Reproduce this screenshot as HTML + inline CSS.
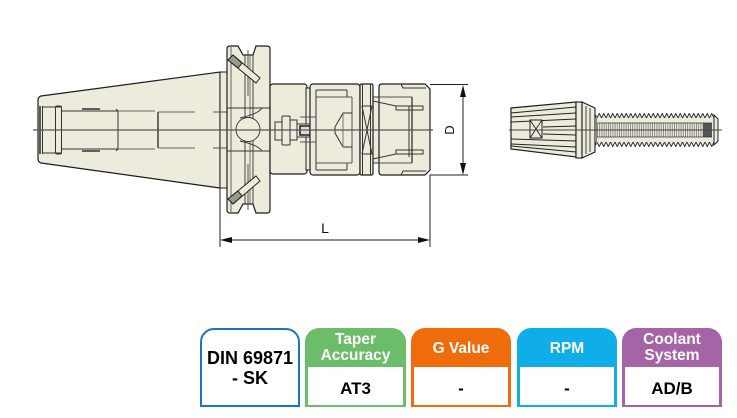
<!DOCTYPE html>
<html><head><meta charset="utf-8">
<style>
html,body{margin:0;padding:0;background:#fff;}
body{width:737px;height:418px;position:relative;overflow:hidden;font-family:"Liberation Sans",sans-serif;}
.box{position:absolute;top:328px;height:79px;box-sizing:border-box;border-radius:14px 14px 0 0;}
.b1{left:200px;width:100px;border:2px solid #1b75bc;background:#fff;}
.hd{position:absolute;left:0;right:0;text-align:center;color:#fff;font-weight:bold;font-size:15.5px;line-height:16px;}
.in{position:absolute;left:3px;right:3px;top:39px;bottom:2px;background:#fff;}
.val{position:absolute;left:0;right:0;top:12px;text-align:center;color:#000;font-weight:bold;font-size:17px;line-height:20px;}
.t1{position:absolute;left:-2px;right:-2px;top:18px;text-align:center;font-weight:bold;font-size:18px;line-height:20px;color:#000;}
</style></head><body>
<svg width="737" height="418" viewBox="0 0 737 418" style="position:absolute;left:0;top:0">
<defs>
<pattern id="tt" x="597" y="113" width="4.5" height="5" patternUnits="userSpaceOnUse"><path d="M0,5 L2.25,0.4 L4.5,5" fill="#ecebdc" stroke="#222" stroke-width="0.9"/></pattern>
<pattern id="tb" x="597" y="142" width="4.5" height="5" patternUnits="userSpaceOnUse"><path d="M0,0 L2.25,4.6 L4.5,0" fill="#ecebdc" stroke="#222" stroke-width="0.9"/></pattern>
<pattern id="hatch" x="597" y="0" width="2.2" height="10" patternUnits="userSpaceOnUse"><line x1="0.5" y1="0" x2="0.5" y2="10" stroke="#666" stroke-width="0.7"/></pattern>
</defs>

<!-- Taper -->
<path d="M41,96 L220,72 L220,188 L41,163 Q38,162 38,159 L38,100 Q38,97 41,96 Z" fill="#ecebdc" stroke="#1e1e1e" stroke-width="1.2"/>
<rect x="220" y="72" width="7" height="116" fill="#ecebdc" stroke="#1e1e1e" stroke-width="1"/>
<g stroke="#333" stroke-width="1" fill="none">
<line x1="40" y1="106" x2="40" y2="154" stroke-width="1.6"/>
<line x1="42.5" y1="106" x2="42.5" y2="154"/>
<line x1="42" y1="107" x2="62" y2="107"/>
<line x1="42" y1="153" x2="62" y2="153"/>
<rect x="55.5" y="106" width="6" height="48" rx="1.5"/>
<line x1="62" y1="111" x2="118" y2="111"/>
<line x1="62" y1="149" x2="118" y2="149"/>
<line x1="82" y1="109" x2="100" y2="109" stroke-width="1.4"/>
<line x1="82" y1="151" x2="100" y2="151" stroke-width="1.4"/>
<path d="M116,109 L118,111 L118,149 L116,151"/>
<line x1="118" y1="111" x2="155" y2="111" stroke="#666"/>
<line x1="118" y1="149" x2="155" y2="149" stroke="#666"/>
<line x1="158" y1="112" x2="158" y2="148" stroke-width="1.4"/>
<line x1="158" y1="112" x2="195" y2="112" stroke="#666"/>
<line x1="158" y1="148" x2="195" y2="148" stroke="#666"/>
<line x1="213" y1="112" x2="227" y2="112" stroke="#555"/>
<line x1="213" y1="148" x2="227" y2="148" stroke="#555"/>
</g>

<!-- Flange -->
<path d="M230,46 L238,46 L243,55 L253,55 L256,46 L267,46 Q270,46 270,49 L270,210 Q270,213 267,213 L256,213 L253,204 L243,204 L238,213 L230,213 Q227,213 227,210 L227,49 Q227,46 230,46 Z" fill="#ecebdc" stroke="#1e1e1e" stroke-width="1.2"/>
<g stroke="#333" stroke-width="0.9" fill="none">
<line x1="231" y1="47" x2="231" y2="212" stroke="#555"/>
<line x1="245" y1="55" x2="245" y2="204"/>
<line x1="248" y1="50" x2="248" y2="96" stroke="#444"/>
<line x1="250" y1="55" x2="250" y2="204" stroke="#666"/>
<line x1="253" y1="55" x2="253" y2="204"/>
<line x1="248" y1="164" x2="248" y2="210" stroke="#444"/>
<line x1="227" y1="108" x2="270" y2="108"/>
<line x1="227" y1="151" x2="270" y2="151"/>
<circle cx="248" cy="129.5" r="12" fill="#ecebdc"/>
<path d="M240,118 Q258,114 262,108"/>
<path d="M240,141 Q258,145 262,151"/>
</g>
<!-- slots -->
<polygon points="233,55 260,78 256,83 228,60" fill="#ecebdc" stroke="#222" stroke-width="1"/>
<polygon points="233,55 242,63 238,68 228,60" fill="#9a9a90" stroke="#222" stroke-width="1"/>
<polygon points="233,204 260,181 256,176 228,199" fill="#ecebdc" stroke="#222" stroke-width="1"/>
<polygon points="233,204 242,196 238,191 228,199" fill="#9a9a90" stroke="#222" stroke-width="1"/>

<!-- Body -->
<rect x="270" y="84" width="37" height="90" rx="3" fill="#ecebdc" stroke="#1e1e1e" stroke-width="1.2"/>
<rect x="306" y="88" width="5" height="82" fill="#ecebdc" stroke="#1e1e1e" stroke-width="1"/>
<g stroke="#333" stroke-width="1" fill="#ecebdc">
<rect x="275" y="122" width="7" height="18"/>
<rect x="282" y="116" width="8" height="29" rx="1"/>
<rect x="290" y="120" width="7" height="20"/>
<rect x="297" y="124" width="16" height="13"/>
<rect x="300" y="126" width="10" height="9" fill="#ddd" stroke="#111" stroke-width="1.4"/>
</g>

<!-- Nut 1 -->
<rect x="310" y="84" width="50" height="91" rx="3" fill="#ecebdc" stroke="#1e1e1e" stroke-width="1.2"/>
<g stroke="#333" stroke-width="1" fill="none">
<line x1="316" y1="90" x2="316" y2="170"/>
<line x1="316" y1="90" x2="347" y2="90"/>
<line x1="316" y1="170" x2="347" y2="170"/>
<line x1="347" y1="90" x2="347" y2="97"/>
<line x1="347" y1="163" x2="347" y2="170"/>
<line x1="316" y1="97" x2="352" y2="97" stroke="#555"/>
<line x1="316" y1="163" x2="352" y2="163" stroke="#555"/>
<line x1="352" y1="97" x2="352" y2="163" stroke="#555"/>
<path d="M352,113 L343,113 L335,127 L335,133 L343,147 L352,147"/>
<line x1="343" y1="113" x2="343" y2="147" stroke="#777"/>
<line x1="300" y1="117" x2="316" y2="117" stroke="#555"/>
<line x1="300" y1="142" x2="316" y2="142" stroke="#555"/>
</g>
<!-- Ring -->
<rect x="373" y="97" width="6" height="66" fill="#ecebdc" stroke="#333" stroke-width="1"/>
<rect x="360" y="84" width="13" height="91" rx="1.5" fill="#ecebdc" stroke="#1e1e1e" stroke-width="1.2"/>
<g stroke="#333" stroke-width="1">
<line x1="362.5" y1="84" x2="362.5" y2="175"/>
<line x1="370.5" y1="84" x2="370.5" y2="175"/>
<line x1="362" y1="106" x2="372" y2="154"/>
<line x1="372" y1="106" x2="362" y2="154"/>
<line x1="362" y1="106" x2="372" y2="106"/>
<line x1="362" y1="154" x2="372" y2="154"/>
</g>
<!-- Nut 2 -->
<path d="M382,84 L425,84 L430,89 L430,170 L425,175 L382,175 Q379,175 379,172 L379,87 Q379,84 382,84 Z" fill="#ecebdc" stroke="#1e1e1e" stroke-width="1.2"/>
<g stroke="#333" stroke-width="1" fill="none">
<path d="M401,84 L403,88 L426,88"/>
<path d="M401,175 L403,171 L426,171"/>
<line x1="379" y1="97" x2="412" y2="97" stroke="#555"/>
<line x1="379" y1="163" x2="412" y2="163" stroke="#555"/>
<line x1="409" y1="106" x2="409" y2="157"/>
<line x1="412" y1="97" x2="412" y2="163" stroke-width="1.3"/>
<line x1="373" y1="101" x2="396" y2="106"/>
<line x1="373" y1="159" x2="396" y2="154"/>
<rect x="396" y="106" width="27" height="4"/>
<rect x="396" y="150" width="27" height="4"/>
</g>

<!-- Center line -->
<line x1="33" y1="130" x2="433" y2="130" stroke="#555" stroke-width="1.2"/>

<!-- Dimensions -->
<g stroke="#222" stroke-width="1" fill="none">
<line x1="220" y1="188" x2="220" y2="247"/>
<line x1="430" y1="175" x2="430" y2="247"/>
<line x1="222" y1="240" x2="428" y2="240"/>
<line x1="430" y1="84.5" x2="468" y2="84.5"/>
<line x1="430" y1="175" x2="468" y2="175"/>
<line x1="463" y1="87" x2="463" y2="173"/>
</g>
<g fill="#111">
<polygon points="220,240 232,237 232,243"/>
<polygon points="430,240 418,237 418,243"/>
<polygon points="463,85 460,97 466,97"/>
<polygon points="463,175 460,163 466,163"/>
</g>
<text x="325" y="233" font-family="Liberation Sans, sans-serif" font-size="14" text-anchor="middle" fill="#111">L</text>
<text x="0" y="0" font-family="Liberation Sans, sans-serif" font-size="13" text-anchor="middle" fill="#111" transform="translate(454,130) rotate(-90)">D</text>

<!-- Right collet -->
<polygon points="511,108 576,102 576,157 511,149" fill="#ecebdc" stroke="#1e1e1e" stroke-width="1.2"/>
<g stroke="#222" stroke-width="1">
<line x1="511" y1="113" x2="576" y2="107"/>
<line x1="511" y1="117" x2="576" y2="113"/>
<line x1="511" y1="122" x2="576" y2="119"/>
<line x1="543" y1="127" x2="576" y2="126"/>
<line x1="543" y1="134" x2="576" y2="135"/>
<line x1="511" y1="139" x2="576" y2="141"/>
<line x1="511" y1="144" x2="576" y2="147"/>
<line x1="511" y1="146" x2="576" y2="152"/>
</g>
<rect x="530" y="120" width="12" height="18" fill="#ecebdc" stroke="#222" stroke-width="1"/>
<g stroke="#222" stroke-width="0.9"><line x1="530" y1="120" x2="542" y2="138"/><line x1="542" y1="120" x2="530" y2="138"/></g>
<rect x="576" y="102" width="6" height="56" fill="#ecebdc" stroke="#1e1e1e" stroke-width="1.1"/>
<polygon points="582,102 595,108 595,152 582,158" fill="#ecebdc" stroke="#1e1e1e" stroke-width="1.1"/>
<g stroke="#333" stroke-width="0.9">
<line x1="586" y1="106" x2="586" y2="154"/>
<line x1="590" y1="108" x2="590" y2="152"/>
</g>
<!-- thread -->
<rect x="595" y="117.5" width="119" height="25" fill="#ecebdc"/>
<rect x="597" y="113" width="117" height="5" fill="url(#tt)"/>
<rect x="597" y="142" width="117" height="5" fill="url(#tb)"/>
<polygon points="714,115 718,119 718,141 714,145" fill="#ecebdc" stroke="#222" stroke-width="1"/>
<line x1="596" y1="115" x2="596" y2="145" stroke="#222" stroke-width="1"/>
<rect x="597" y="123" width="106" height="14" fill="url(#hatch)"/>
<rect x="703" y="123" width="9" height="14" fill="#555"/>
<line x1="597" y1="123" x2="712" y2="123" stroke="#333" stroke-width="0.8"/>
<line x1="597" y1="137" x2="712" y2="137" stroke="#333" stroke-width="0.8"/>
<line x1="509" y1="130" x2="722" y2="130" stroke="#444" stroke-width="1.1"/>
</svg>

<div class="box b1"><div class="t1">DIN 69871<br>- SK</div></div>
<div class="box" style="left:305px;width:101px;background:#6cbd69;"><div class="hd" style="top:4px;">Taper<br>Accuracy</div><div class="in"><div class="val">AT3</div></div></div>
<div class="box" style="left:411px;width:100px;background:#ee6c0c;"><div class="hd" style="top:13px;">G Value</div><div class="in"><div class="val">-</div></div></div>
<div class="box" style="left:517px;width:100px;background:#0faee8;"><div class="hd" style="top:13px;">RPM</div><div class="in"><div class="val">-</div></div></div>
<div class="box" style="left:622px;width:100px;background:#a564a5;"><div class="hd" style="top:4px;">Coolant<br>System</div><div class="in"><div class="val">AD/B</div></div></div>
</body></html>
